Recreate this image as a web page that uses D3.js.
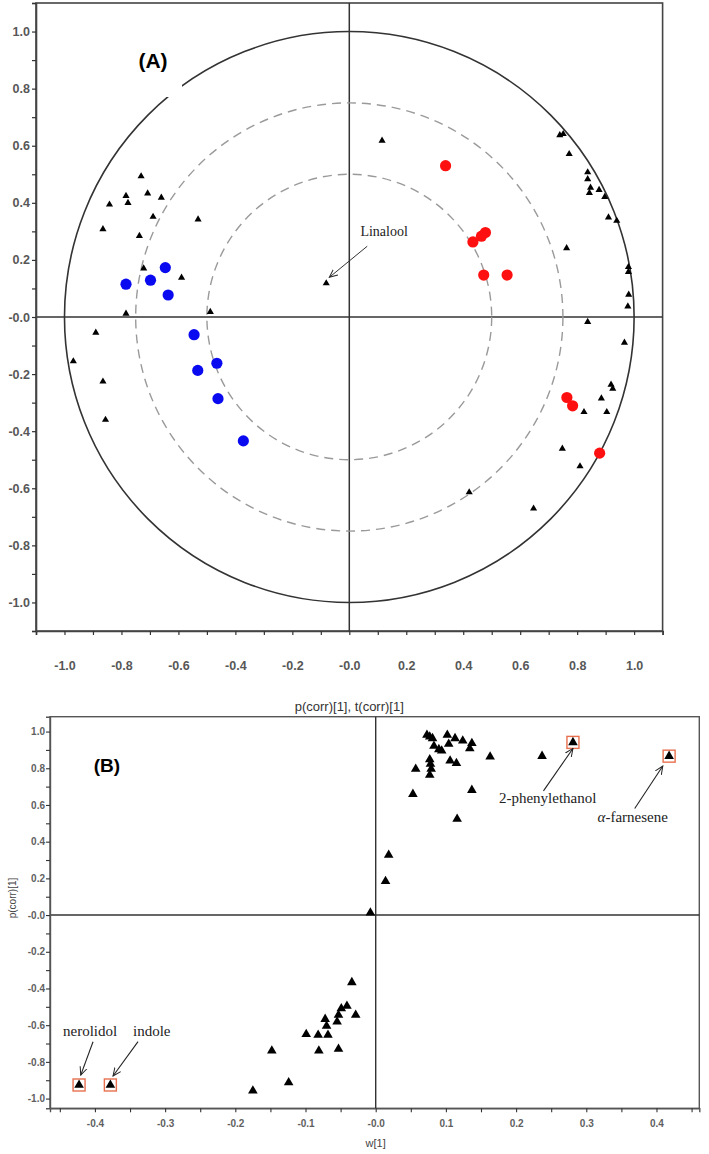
<!DOCTYPE html>
<html><head><meta charset="utf-8">
<script src="https://cdn.jsdelivr.net/npm/d3@7"></script>
<style>body{margin:0;background:#fff}svg{display:block}</style>
</head><body><svg id="c" width="709" height="1154"></svg>
<script>
// ---------- Panel A data (p(corr)[1], t(corr)[1]) ----------
const aTriangles = [
  [-0.731,0.493],[-0.784,0.424],[-0.777,0.400],[-0.842,0.394],[-0.708,0.433],[-0.660,0.418],
  [-0.689,0.351],[-0.531,0.342],[-0.865,0.308],[-0.737,0.284],[-0.722,0.170],[-0.589,0.138],
  [-0.784,0.012],[-0.488,0.018],[-0.081,0.118],
  [-0.890,-0.055],[-0.969,-0.155],[-0.865,-0.226],[-0.856,-0.360],
  [0.115,0.618],[0.739,0.637],[0.751,0.641],[0.772,0.571],[0.837,0.507],[0.837,0.483],
  [0.847,0.453],[0.843,0.435],[0.877,0.445],[0.897,0.421],[0.910,0.349],[0.939,0.337],
  [0.763,0.241],[0.980,0.175],[0.980,0.158],[0.981,0.078],[0.978,0.037],[0.837,-0.017],
  [0.966,-0.090],[0.919,-0.237],[0.925,-0.251],[0.885,-0.285],[0.824,-0.333],[0.904,-0.333],
  [0.748,-0.461],[0.810,-0.523],[0.421,-0.614],[0.647,-0.671]
];
const aBlue = [
  [-0.784,0.115],[-0.698,0.129],[-0.646,0.173],[-0.636,0.077],[-0.545,-0.062],
  [-0.532,-0.187],[-0.465,-0.162],[-0.461,-0.286],[-0.372,-0.434]
];
const aRed = [
  [0.338,0.530],[0.434,0.263],[0.464,0.283],[0.478,0.296],[0.472,0.147],
  [0.554,0.147],[0.764,-0.282],[0.784,-0.311],[0.879,-0.477]
];
const aCircleRadii = [1.0, 0.75, 0.5];
const aTicks = d3.range(-11, 12).map(d => d / 10);
const aTickLabels = [-1.0,-0.8,-0.6,-0.4,-0.2,0,0.2,0.4,0.6,0.8,1.0];
const aLinalool = {text:"Linalool", tx:0.039, ty:0.283, from:[0.063,0.248], to:[-0.070,0.139]};

// ---------- Panel B data (w[1], p(corr)[1]) ----------
const bPoints = [
  [0.073,0.981],[0.077,0.972],[0.081,0.963],[0.102,0.981],[0.113,0.963],[0.124,0.950],
  [0.104,0.932],[0.137,0.936],[0.134,0.908],[0.083,0.921],[0.090,0.903],[0.094,0.895],
  [0.163,0.863],[0.237,0.866],[0.057,0.796],[0.077,0.848],[0.078,0.823],[0.079,0.796],
  [0.077,0.763],[0.106,0.841],[0.115,0.827],[0.053,0.659],[0.137,0.681],[0.116,0.523],
  [0.0185,0.327],[0.014,0.184],[-0.0076,0.0125],
  [-0.175,-0.957],[-0.148,-0.739],[-0.124,-0.912],[-0.099,-0.650],[-0.082,-0.654],
  [-0.081,-0.739],[-0.068,-0.654],[-0.072,-0.567],[-0.070,-0.605],[-0.053,-0.730],
  [-0.055,-0.581],[-0.053,-0.545],[-0.049,-0.509],[-0.041,-0.496],[-0.034,-0.367],[-0.0285,-0.545]
];
const bHighlighted = [
  [0.281,0.941],[0.418,0.866],[-0.4226,-0.926],[-0.378,-0.926]
];
const bXTicks = d3.range(-9, 10).map(d => d * 0.05);
const bXTickLabels = [-0.4,-0.3,-0.2,-0.1,0,0.1,0.2,0.3,0.4];
const bYTicks = d3.range(-10, 11).map(d => d / 10);
const bYTickLabels = [-1.0,-0.8,-0.6,-0.4,-0.2,0,0.2,0.4,0.6,0.8,1.0];
const bAnnotations = [
  {text:"2-phenylethanol", tx:0.1756, ty:0.610, from:[0.239,0.677], to:[0.281,0.908]},
  {text:"-farnesene", alpha:true, tx:0.316, ty:0.508, from:[0.369,0.581], to:[0.409,0.812]},
  {text:"nerolidol", tx:-0.4455, ty:-0.659, from:[-0.4027,-0.690], to:[-0.4202,-0.872]},
  {text:"indole", tx:-0.3457, ty:-0.659, from:[-0.3386,-0.690], to:[-0.3742,-0.877]}
];

// ---------- drawing ----------
const svg = d3.select("#c");
const fmt = v => Math.abs(v) < 1e-9 ? "-0.0" : v.toFixed(1);
const isLabel = (arr) => v => arr.some(a => Math.abs(a - v) < 1e-9);

const defs = svg.append("defs");
defs.append("marker").attr("id","arr").attr("viewBox","0 -5 10 10")
  .attr("refX",9).attr("refY",0).attr("markerWidth",9).attr("markerHeight",9)
  .attr("markerUnits","userSpaceOnUse").attr("orient","auto")
  .append("path").attr("d","M0,-4L9,0L0,4").attr("fill","none").attr("stroke","#222").attr("stroke-width",1.1);

// ===== Panel A =====
const xA = d3.scaleLinear().domain([-1.1, 1.1]).range([36, 662.6]);
const yA = d3.scaleLinear().domain([-1.1, 1.1]).range([631, 3]);
const gA = svg.append("g");

gA.append("rect").attr("x", xA(-1.1)).attr("y", yA(1.1))
  .attr("width", xA(1.1) - xA(-1.1)).attr("height", yA(-1.1) - yA(1.1))
  .attr("fill","none").attr("stroke","#444").attr("stroke-width",1.6);

// reference lines
gA.append("line").attr("x1", xA(0)).attr("x2", xA(0)).attr("y1", yA(1.1)).attr("y2", yA(-1.1))
  .attr("stroke","#333").attr("stroke-width",1.5);
gA.append("line").attr("x1", xA(-1.1)).attr("x2", xA(1.1)).attr("y1", yA(0)).attr("y2", yA(0))
  .attr("stroke","#333").attr("stroke-width",1.5);

// circles
gA.selectAll("ellipse.ring").data(aCircleRadii).join("ellipse")
  .attr("cx", xA(0)).attr("cy", yA(0))
  .attr("rx", r => xA(r) - xA(0)).attr("ry", r => yA(0) - yA(r))
  .attr("fill","none")
  .attr("stroke", r => r === 1 ? "#333" : "#9a9a9a")
  .attr("stroke-width", r => r === 1 ? 1.6 : 1.4)
  .attr("stroke-dasharray", r => r === 1 ? null : "9,6");

// axes
const axAx = d3.axisBottom(xA).tickValues(aTicks).tickSize(4).tickPadding(26)
  .tickFormat(v => isLabel(aTickLabels)(v) ? fmt(v) : "");
const axAy = d3.axisLeft(yA).tickValues(aTicks).tickSize(4).tickPadding(2)
  .tickFormat(v => isLabel(aTickLabels)(v) ? fmt(v) : "");
const gAx = gA.append("g").attr("transform", `translate(0,${yA(-1.1)})`).call(axAx);
const gAy = gA.append("g").attr("transform", `translate(${xA(-1.1)},0)`).call(axAy);
[gAx, gAy].forEach(g => {
  g.select(".domain").attr("stroke","#444").attr("stroke-width",1.6);
  g.selectAll(".tick line").attr("stroke","#333").attr("stroke-width",1.2);
  g.selectAll(".tick text").attr("fill","#3a3a3a").attr("font-family","Liberation Sans, Arial, sans-serif")
    .attr("font-size",12.5).attr("font-weight","bold").attr("opacity",0.85);
});
gA.append("text").attr("x", xA(0)).attr("y", 711).attr("text-anchor","middle")
  .attr("font-family","Liberation Sans, Arial, sans-serif").attr("font-size",13).attr("fill","#333")
  .text("p(corr)[1], t(corr)[1]");

// (A) label with white box cutting the circle
gA.append("rect").attr("x",128).attr("y",40).attr("width",54).attr("height",57).attr("fill","#fff");
gA.append("text").attr("x",153).attr("y",68).attr("text-anchor","middle")
  .attr("font-family","Liberation Sans, Arial, sans-serif").attr("font-weight","bold").attr("font-size",21)
  .attr("fill","#000").text("(A)");

// points
const triA = d3.symbol().type(d3.symbolTriangle).size(22);
gA.selectAll("path.ta").data(aTriangles).join("path").attr("class","ta")
  .attr("d", triA).attr("transform", d => `translate(${xA(d[0])},${yA(d[1])})`).attr("fill","#000");
gA.selectAll("circle.blue").data(aBlue).join("circle").attr("class","blue")
  .attr("cx", d => xA(d[0])).attr("cy", d => yA(d[1])).attr("r",5.6).attr("fill","#0a0af0");
gA.selectAll("circle.red").data(aRed).join("circle").attr("class","red")
  .attr("cx", d => xA(d[0])).attr("cy", d => yA(d[1])).attr("r",5.6).attr("fill","#ff1010");

// Linalool annotation
gA.append("text").attr("x", xA(aLinalool.tx)).attr("y", yA(aLinalool.ty))
  .attr("font-family","Liberation Serif, Times New Roman, serif").attr("font-size",14).attr("fill","#222")
  .text(aLinalool.text);
gA.append("line").attr("x1", xA(aLinalool.from[0])).attr("y1", yA(aLinalool.from[1]))
  .attr("x2", xA(aLinalool.to[0])).attr("y2", yA(aLinalool.to[1]))
  .attr("stroke","#333").attr("stroke-width",1).attr("marker-end","url(#arr)");

// ===== Panel B =====
const xB = d3.scaleLinear().domain([-0.464, 0.461]).range([50, 699.3]);
const yB = d3.scaleLinear().domain([-1.053, 1.081]).range([1108.3, 716.7]);
const gB = svg.append("g");

gB.append("rect").attr("x", xB(-0.464)).attr("y", yB(1.081))
  .attr("width", xB(0.461) - xB(-0.464)).attr("height", yB(-1.053) - yB(1.081))
  .attr("fill","none").attr("stroke","#555").attr("stroke-width",1.4);
gB.append("line").attr("x1", xB(0)).attr("x2", xB(0)).attr("y1", yB(1.081)).attr("y2", yB(-1.053))
  .attr("stroke","#333").attr("stroke-width",1.4);
gB.append("line").attr("x1", xB(-0.464)).attr("x2", xB(0.461)).attr("y1", yB(0)).attr("y2", yB(0))
  .attr("stroke","#333").attr("stroke-width",1.4);

const axBx = d3.axisBottom(xB).tickValues(bXTicks).tickSize(4).tickPadding(8)
  .tickFormat(v => isLabel(bXTickLabels)(v) ? fmt(v) : "");
const axBy = d3.axisLeft(yB).tickValues(bYTicks).tickSize(4).tickPadding(1)
  .tickFormat(v => isLabel(bYTickLabels)(v) ? fmt(v) : "");
const gBx = gB.append("g").attr("transform", `translate(0,${yB(-1.053)})`).call(axBx);
const gBy = gB.append("g").attr("transform", `translate(${xB(-0.464)},0)`).call(axBy);
[gBx, gBy].forEach(g => {
  g.select(".domain").attr("stroke","#555").attr("stroke-width",1.4);
  g.selectAll(".tick line").attr("stroke","#333").attr("stroke-width",1.1);
  g.selectAll(".tick text").attr("fill","#444").attr("font-family","Liberation Sans, Arial, sans-serif")
    .attr("font-size",10).attr("font-weight","bold").attr("opacity",0.85);
});
gB.append("text").attr("x", xB(0)).attr("y", 1147).attr("text-anchor","middle")
  .attr("font-family","Liberation Sans, Arial, sans-serif").attr("font-size",11).attr("fill","#444")
  .text("w[1]");
gB.append("text").attr("transform","translate(16,898) rotate(-90)").attr("text-anchor","middle")
  .attr("font-family","Liberation Sans, Arial, sans-serif").attr("font-size",10).attr("fill","#444")
  .text("p(corr)[1]");

gB.append("text").attr("x",107).attr("y",772).attr("text-anchor","middle")
  .attr("font-family","Liberation Sans, Arial, sans-serif").attr("font-weight","bold").attr("font-size",19)
  .attr("fill","#000").text("(B)");

const triB = d3.symbol().type(d3.symbolTriangle).size(40);
gB.selectAll("rect.hl").data(bHighlighted).join("rect").attr("class","hl")
  .attr("x", d => xB(d[0]) - 6).attr("y", d => yB(d[1]) - 6).attr("width",12).attr("height",12)
  .attr("fill","#fff").attr("stroke","#e8704f").attr("stroke-width",1.4);
gB.selectAll("path.tb").data(bPoints.concat(bHighlighted)).join("path").attr("class","tb")
  .attr("d", triB).attr("transform", d => `translate(${xB(d[0])},${yB(d[1])})`).attr("fill","#000");

bAnnotations.forEach(a => {
  const t = gB.append("text").attr("x", xB(a.tx)).attr("y", yB(a.ty))
    .attr("font-family","Liberation Serif, Times New Roman, serif").attr("font-size",15).attr("fill","#222");
  if (a.alpha) t.append("tspan").attr("font-style","italic").text("α");
  t.append("tspan").text(a.text);
  gB.append("line").attr("x1", xB(a.from[0])).attr("y1", yB(a.from[1]))
    .attr("x2", xB(a.to[0])).attr("y2", yB(a.to[1]))
    .attr("stroke","#222").attr("stroke-width",1.1).attr("marker-end","url(#arr)");
});
</script></body></html>
